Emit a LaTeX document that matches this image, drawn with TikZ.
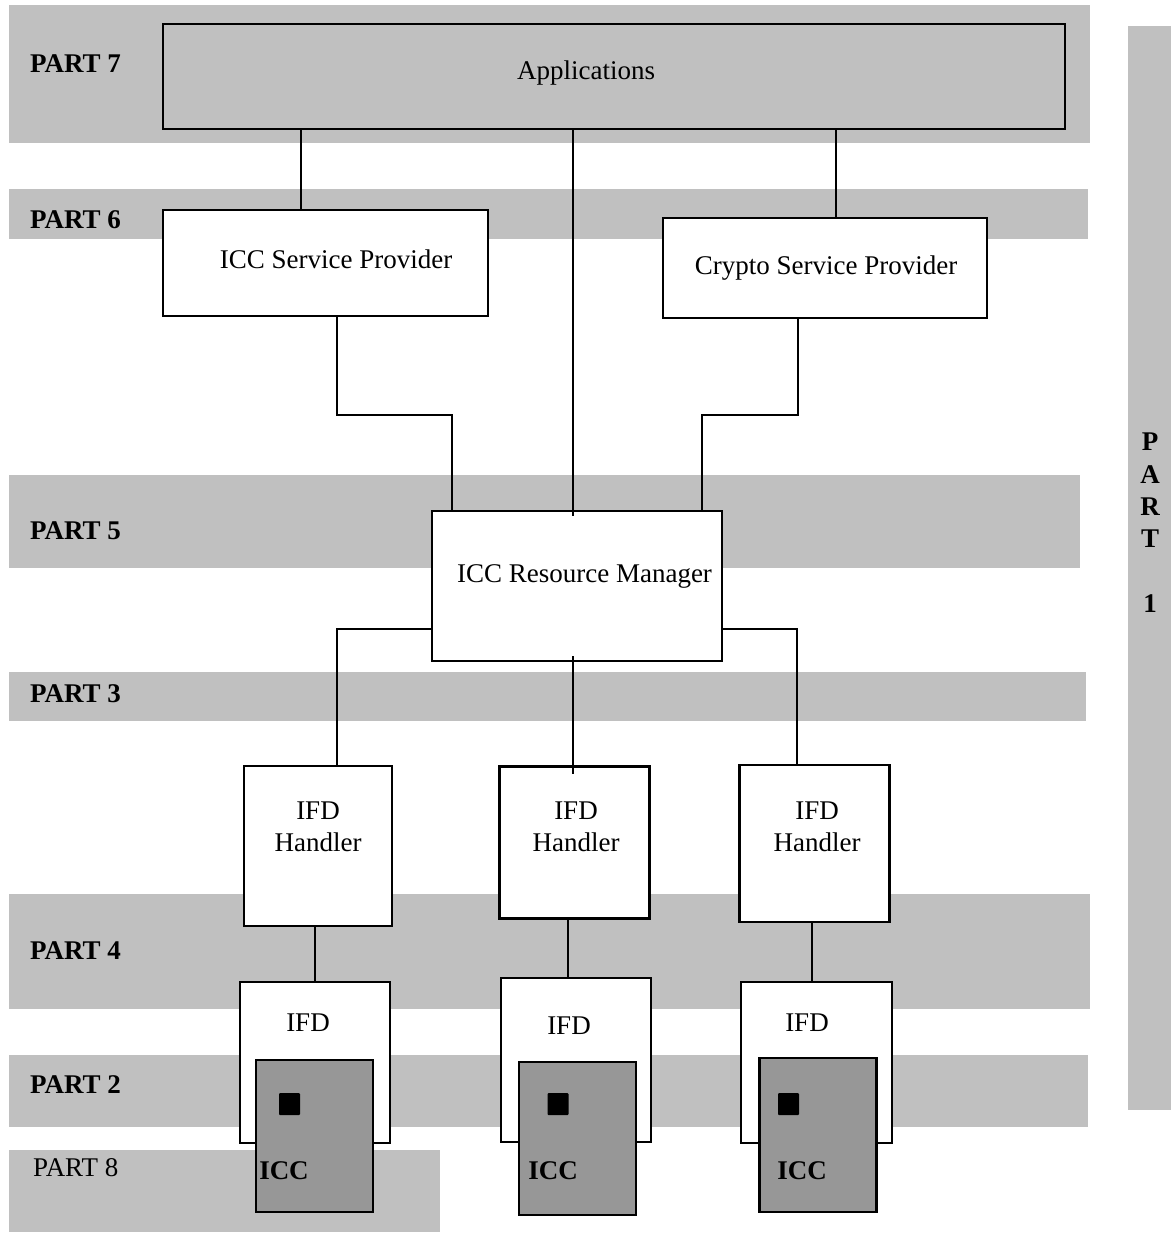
\documentclass[tikz,border=0pt]{standalone}
\usepackage{fontspec}
\setmainfont{Liberation Serif}
\definecolor{bandgray}{HTML}{C0C0C0}
\definecolor{cardgray}{HTML}{979797}
\begin{document}
\begin{tikzpicture}[x=1pt,y=-1pt,
  band/.style={fill=bandgray,draw=none},
  box/.style={draw,line width=2.5pt,fill=white,inner sep=0pt,outer sep=0pt},
  card/.style={box,fill=cardgray},
  chip/.style={fill=black,draw=none,rounded corners=1pt,minimum width=21pt,minimum height=22pt,inner sep=0pt},
  conn/.style={line width=2.5pt},
  txt/.style={font=\fontsize{27}{32}\selectfont,inner sep=0pt,anchor=base},
  btxt/.style={font=\bfseries\fontsize{27}{32}\selectfont,inner sep=0pt,anchor=base},
  part/.style={font=\bfseries\fontsize{27}{32}\selectfont,inner sep=0pt,anchor=base west},
]
\useasboundingbox[fill=white] (0,0) rectangle (1171,1233);
% bands
\fill[band] (9,5) rectangle (1090,143);
\fill[band] (9,189) rectangle (1088,239);
\fill[band] (9,475) rectangle (1080,568);
\fill[band] (9,672) rectangle (1086,721);
\fill[band] (9,894) rectangle (1090,1009);
\fill[band] (9,1055) rectangle (1088,1127);
\fill[band] (9,1150) rectangle (440,1232);
\fill[band] (1128,26) rectangle (1171,1110);
% part labels
\node[part] (p7) at (30,73) {PART 7};
\node[part] (p6) at (30,229) {PART 6};
\node[part] (p5) at (30,539) {PART 5};
\node[part] (p3) at (30,702) {PART 3};
\node[part] (p4) at (30,959) {PART 4};
\node[part] (p2) at (30,1093) {PART 2};
\node[txt,anchor=base west] (p8) at (33,1176) {PART 8};
\node[btxt] (p1a) at (1150,450) {P};
\node[btxt] (p1b) at (1150,483) {A};
\node[btxt] (p1c) at (1150,515) {R};
\node[btxt] (p1d) at (1150,547) {T};
\node[btxt] (p1e) at (1150,612) {1};
% coordinates for connector columns
\coordinate (xa) at (301,0);
\coordinate (xb) at (573,0);
\coordinate (xc) at (836,0);
\coordinate (xd) at (337,0);
\coordinate (xe) at (452,0);
\coordinate (xf) at (798,0);
\coordinate (xg) at (702,0);
\coordinate (yh) at (0,415);
\coordinate (yi) at (0,629);
\coordinate (xj) at (797,0);
\coordinate (xk) at (315,0);
\coordinate (xl) at (568,0);
\coordinate (xm) at (812,0);
% boxes
\node[box,fill=bandgray,minimum width=902pt,minimum height=105pt] (apps) at (614,76.5) {};
\node[box,minimum width=325pt,minimum height=106pt] (isp) at (325.5,263) {};
\node[box,minimum width=324pt,minimum height=100pt] (csp) at (825,268) {};
\node[box,minimum width=290pt,minimum height=150pt] (rm) at (577,586) {};
\node[box,minimum width=148pt,minimum height=160pt] (h1) at (318,846) {};
\node[box,minimum width=150pt,minimum height=152pt] (h2) at (574.5,842.5) {};
\node[box,minimum width=150pt,minimum height=157pt] (h3) at (814.5,843.5) {};
\node[box,minimum width=150pt,minimum height=161pt] (ifd1) at (315,1062.5) {};
\node[box,minimum width=150pt,minimum height=164pt] (ifd2) at (576,1060) {};
\node[box,minimum width=151pt,minimum height=161pt] (ifd3) at (816.5,1062.5) {};
\node[card,minimum width=117pt,minimum height=152pt] (icc1) at (314.5,1136) {};
\node[card,minimum width=117pt,minimum height=153pt] (icc2) at (577.5,1138.5) {};
\node[card,minimum width=117pt,minimum height=154pt] (icc3) at (818,1135) {};
\node[chip] (chip1) at (289.5,1104) {};
\node[chip] (chip2) at (558,1104) {};
\node[chip] (chip3) at (788.5,1104) {};
% texts
\node[txt] (tapps) at (586,80) {Applications};
\node[txt] (tisp) at (336,268) {ICC Service Provider};
\node[txt] (tcsp) at (826,274) {Crypto Service Provider};
\node[txt] (trm) at (584.5,582) {ICC Resource Manager};
\node[txt,align=center] (th1) at (318,851) {IFD\\Handler};
\node[txt,align=center] (th2) at (576,851) {IFD\\Handler};
\node[txt,align=center] (th3) at (817,851) {IFD\\Handler};
\node[txt] (tifd1) at (308,1031) {IFD};
\node[txt] (tifd2) at (569,1034) {IFD};
\node[txt] (tifd3) at (807,1031) {IFD};
\node[btxt] (ticc1) at (284,1179) {ICC};
\node[btxt] (ticc2) at (553,1179) {ICC};
\node[btxt] (ticc3) at (802,1179) {ICC};
% connectors
\draw[conn] (apps.south -| xa) -- (isp.north -| xa);
\draw[conn] (apps.south -| xb) -- ([yshift=-5pt]rm.north -| xb);
\draw[conn] (apps.south -| xc) -- (csp.north -| xc);
\draw[conn] (isp.south -| xd) |- (yh -| xe) -- (rm.north -| xe);
\draw[conn] (csp.south -| xf) |- (yh -| xg) -- (rm.north -| xg);
\draw[conn] (rm.west |- yi) -| (h1.north -| xd);
\draw[conn] (rm.east |- yi) -| (h3.north -| xj);
\draw[conn] ([yshift=5pt]rm.south -| xb) -- ([yshift=-7pt]h2.north -| xb);
\draw[conn] (h1.south -| xk) -- (ifd1.north -| xk);
\draw[conn] (h2.south -| xl) -- (ifd2.north -| xl);
\draw[conn] (h3.south -| xm) -- (ifd3.north -| xm);
\end{tikzpicture}
\end{document}
